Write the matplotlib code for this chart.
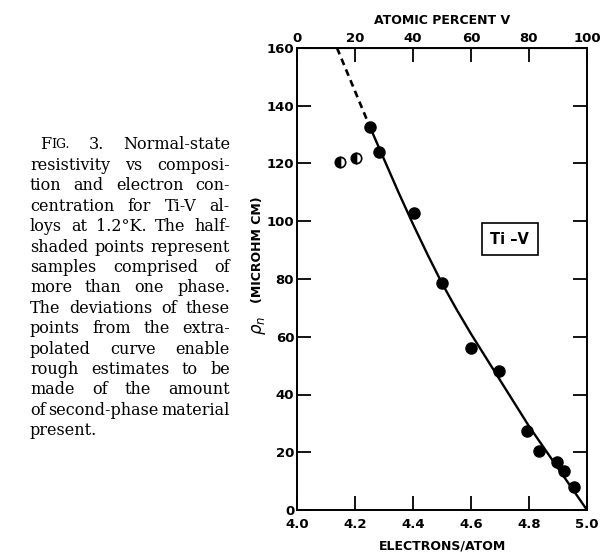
import matplotlib.pyplot as plt

# Puntos medidos (una sola fase)
e_puntos = [4.25, 4.283, 4.403, 4.50, 4.60, 4.697, 4.793, 4.834, 4.897, 4.92, 4.955]
rho_puntos = [132.5, 124, 103, 78.5, 56, 48, 27.5, 20.5, 16.5, 13.5, 8]

# Puntos semi-sombreados (mas de una fase)
e_mezcla = [4.148, 4.203]
rho_mezcla = [120.5, 122]

# Curva continua y extrapolacion
e_curva = [4.25, 4.30, 4.35, 4.40, 4.45, 4.50, 4.55, 4.60, 4.65, 4.70, 4.80, 4.90, 5.0]
rho_curva = [133, 121.5, 110, 99, 88.5, 78.5, 69.5, 61, 53, 45, 29, 14.5, 0]
e_extrap = [4.138, 4.25]
rho_extrap = [160, 133]

ticks_y = [0, 20, 40, 60, 80, 100, 120, 140, 160]
ticks_e = [4.0, 4.2, 4.4, 4.6, 4.8, 5.0]
ticks_pct = [0, 20, 40, 60, 80, 100]

leyenda = [
    "FIG. 3. Normal-state",
    "resistivity vs composi-",
    "tion and electron con-",
    "centration for Ti-V al-",
    "loys at 1.2°K. The half-",
    "shaded points represent",
    "samples comprised of",
    "more than one phase.",
    "The deviations of these",
    "points from the extra-",
    "polated curve enable",
    "rough estimates to be",
    "made of the amount",
    "of second-phase material",
    "present.",
]

W, H = 600, 556
fig = plt.figure(figsize=(6, 5.56), dpi=100)
ax = fig.add_axes([297 / W, 1 - 510 / H, 290 / W, 462 / H])

ax.plot(e_curva, rho_curva, color="black", lw=1.7)
ax.plot(e_extrap, rho_extrap, color="black", lw=1.9, ls=(0, (2.6, 1.8)))
ax.plot(e_puntos, rho_puntos, "o", color="black", ms=8)
ax.plot(e_mezcla, rho_mezcla, "o", ms=7.5, fillstyle="left", markerfacecolor="black",
        markerfacecoloralt="white", markeredgecolor="black", mew=1.2)

ax.text(4.734, 93.8, "Ti –V", ha="center", va="center", fontsize=10.5, fontweight="bold",
        bbox=dict(boxstyle="square,pad=0.6", fc="white", ec="black", lw=1.2))

ax.set_xlim(4.0, 5.0)
ax.set_ylim(0, 160)
ax.set_xticks(ticks_e)
ax.set_xticklabels([f"{v:.1f}" for v in ticks_e])
ax.set_yticks(ticks_y)
ax.set_yticklabels([str(v) for v in ticks_y])

for s in ax.spines.values():
    s.set_linewidth(1.4)
ax.tick_params(direction="in", length=10, width=1.3, labelsize=9.5, right=True)
ax.tick_params(axis="x", pad=6)
ax.tick_params(axis="y", pad=2)
for lab in ax.get_xticklabels() + ax.get_yticklabels():
    lab.set_fontweight("bold")

arriba = ax.secondary_xaxis("top", functions=(lambda e: (e - 4.0) * 100, lambda p: 4.0 + p / 100))
arriba.set_xticks(ticks_pct)
arriba.tick_params(direction="in", length=10, width=1.3, labelsize=9.5, pad=2)
for lab in arriba.get_xticklabels():
    lab.set_fontweight("bold")
arriba.set_xlabel("ATOMIC PERCENT V", fontsize=9, fontweight="bold", labelpad=6)

ax.set_xlabel("ELECTRONS/ATOM", fontsize=9, fontweight="bold", labelpad=6)
fig.text(259 / W, 1 - 325 / H, r"$\rho_n$", rotation=90, fontsize=12,
         ha="center", va="center")
fig.text(258 / W, 1 - 250 / H, "(MICROHM CM)", rotation=90, fontsize=9,
         fontweight="bold", ha="center", va="center")

# Texto de la leyenda de la figura, justificado
tam = 11.5
x0, x1 = 30, 230
y_prim, paso = 145, 20.4
fig.canvas.draw()
r = fig.canvas.get_renderer()
for i, linea in enumerate(leyenda):
    y = 1 - (y_prim + i * paso) / H
    palabras = linea.split()
    grupos = []
    for p in palabras:
        if p == "FIG.":
            piezas = [fig.text(0, y, "F", fontsize=tam, family="DejaVu Serif", va="center"),
                      fig.text(0, y, "IG.", fontsize=tam * 0.78, family="DejaVu Serif", va="center")]
        else:
            piezas = [fig.text(0, y, p, fontsize=tam, family="DejaVu Serif", va="center")]
        grupos.append(piezas)
    anchos = [[t.get_window_extent(r).width for t in g] for g in grupos]
    total = sum(sum(a) for a in anchos)
    inicio = x0 + (10 if i == 0 else 0)
    ultima = i == len(leyenda) - 1
    if ultima or len(grupos) < 2:
        hueco = 4
    else:
        hueco = max(2, (x1 - inicio - total) / (len(grupos) - 1))
    x = inicio
    for g, a in zip(grupos, anchos):
        for t, w in zip(g, a):
            t.set_x(x / W)
            x += w
        x += hueco

fig.savefig("out.png", dpi=100)
